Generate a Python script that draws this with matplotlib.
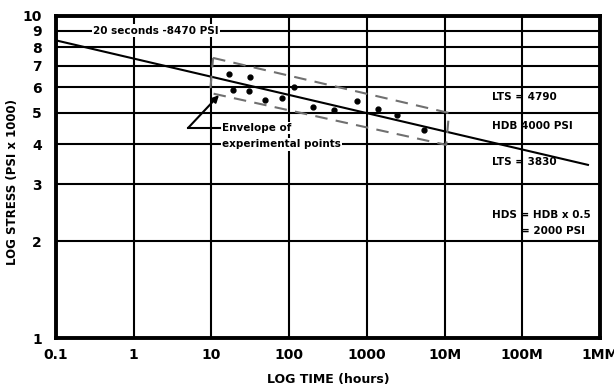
import numpy as np
import matplotlib.pyplot as plt

plt.rcParams['font.family'] = ['DejaVu Sans']
plt.rcParams['font.weight'] = 'bold'

# regression line (hours, stress in 1000 psi)
line_t = [0.1, 7.0e5]
line_s = [8.40, 3.45]

# experimental points
pts_t = [17, 31, 19, 30, 49, 80, 116, 201, 378, 755, 1390, 2470, 5450]
pts_s = [6.60, 6.48, 5.89, 5.86, 5.48, 5.57, 6.03, 5.23, 5.10, 5.45, 5.13, 4.93, 4.43]

# envelope corners
env_t = [10.5, 11400, 10500, 9.6, 10.5]
env_s = [7.41, 5.00, 3.98, 5.77, 7.41]

xticks = [0.1, 1, 10, 100, 1000, 1e4, 1e5, 1e6]
xlabels = ['0.1', '1', '10', '100', '1000', '10M', '100M', '1MM']
yticks = [1, 2, 3, 4, 5, 6, 7, 8, 9, 10]
ylabels = ['1', '2', '3', '4', '5', '6', '7', '8', '9', '10']

fig = plt.figure(figsize=(6.14, 3.90), dpi=100)
ax = fig.add_axes([0.0912, 0.133, 0.886, 0.826])
ax.set_xscale('log')
ax.set_yscale('log')
ax.set_xlim(0.1, 1e6)
ax.set_ylim(1, 10)
ax.set_xticks(xticks)
ax.set_xticklabels(xlabels)
ax.set_yticks(yticks)
ax.set_yticklabels(ylabels)
ax.minorticks_off()
ax.tick_params(length=0, labelsize=10)
ax.tick_params(axis='x', pad=7)
ax.tick_params(axis='y', pad=10)
for lab in ax.get_xticklabels() + ax.get_yticklabels():
    lab.set_fontweight('bold')
ax.grid(True, color='black', linewidth=1.5)
for sp in ax.spines.values():
    sp.set_linewidth(2.8)

ax.plot(line_t, line_s, color='black', lw=1.5, zorder=3)
ax.plot(pts_t, pts_s, 'o', color='black', ms=3.5, zorder=4)
ax.plot(env_t, env_s, color='#707070', lw=1.5, dashes=(6, 4), zorder=3)

fs = 7.5
bb = dict(facecolor='white', edgecolor='none', pad=1)
ax.text(0.3, 9, '20 seconds -8470 PSI', fontsize=fs, fontweight='bold',
        va='center', ha='left', bbox=bb, zorder=5)
ax.text(13.7, 4.49, 'Envelope of', fontsize=fs, fontweight='bold',
        va='center', ha='left', bbox=bb, zorder=5)
ax.text(13.7, 4.0, 'experimental points', fontsize=fs, fontweight='bold',
        va='center', ha='left', bbox=bb, zorder=5)
ax.plot([13.0, 5.0], [4.49, 4.49], color='black', lw=1.5, zorder=6)
ax.annotate('', xy=(12.5, 5.68), xytext=(5.0, 4.49),
            arrowprops=dict(arrowstyle='-|>', color='black', lw=1.5,
                            mutation_scale=10, shrinkA=0, shrinkB=0), zorder=6)

for s, txt in [(5.6, 'LTS = 4790'), (4.55, 'HDB 4000 PSI'), (3.52, 'LTS = 3830'),
               (2.41, 'HDS = HDB x 0.5')]:
    ax.text(4.1e4, s, txt, fontsize=fs, fontweight='bold', va='center', ha='left', zorder=5)
ax.text(6.4e5, 2.15, '= 2000 PSI', fontsize=fs, fontweight='bold', va='center', ha='right', zorder=5)

ax.set_xlabel('LOG TIME (hours)', fontsize=9, fontweight='bold', labelpad=8)
ax.set_ylabel('LOG STRESS (PSI x 1000)', fontsize=8.5, fontweight='bold')
ax.yaxis.set_label_coords(-0.068, 0.484)

fig.savefig('out.png', dpi=100)
